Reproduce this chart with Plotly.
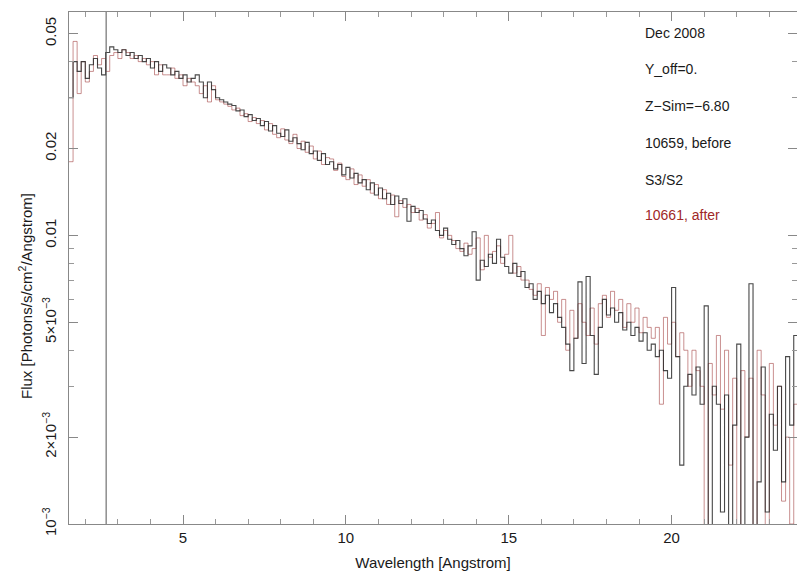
import plotly.graph_objects as go

# Spectral binning: constant-width bins in wavelength (Angstrom), 8 bins per Angstrom
bin_start = 1.5
bin_width = 0.125

# Flux per bin [Photons/s/cm^2/Angstrom], observation 10659 (before); one row per Angstrom
flux_before = [
    0.030, 0.040, 0.037, 0.040, 0.035, 0.039, 0.041, 0.038,
    0.036, 0.043, 0.045, 0.044, 0.043, 0.044, 0.042, 0.043,
    0.041, 0.042, 0.040, 0.041, 0.038, 0.040, 0.037, 0.039,
    0.038, 0.036, 0.037, 0.035, 0.036, 0.034, 0.035, 0.036,
    0.034, 0.030, 0.034, 0.032, 0.030, 0.0295, 0.029, 0.0285,
    0.0282, 0.0270, 0.0272, 0.0258, 0.0262, 0.0250, 0.0254, 0.0240,
    0.0248, 0.0230, 0.0240, 0.0226, 0.0220, 0.0232, 0.0212, 0.0218,
    0.0208, 0.0198, 0.0210, 0.0192, 0.0196, 0.0182, 0.0192, 0.0176,
    0.0180, 0.0170, 0.0176, 0.0162, 0.0172, 0.0158, 0.0164, 0.0152,
    0.0156, 0.0144, 0.0152, 0.0138, 0.0146, 0.0134, 0.0140, 0.0128,
    0.0137, 0.0129, 0.0134, 0.0112, 0.0126, 0.0120, 0.0122, 0.0114,
    0.0110, 0.0113, 0.0104, 0.0100, 0.0106, 0.0097, 0.0093, 0.0096,
    0.0090, 0.0085, 0.0092, 0.0103, 0.0070, 0.0082, 0.0078, 0.0086,
    0.0080, 0.0097, 0.0084, 0.0078, 0.0074, 0.0080, 0.0072, 0.0075,
    0.0066, 0.0068, 0.0060, 0.0064, 0.0058, 0.0062, 0.0054, 0.0058,
    0.0052, 0.0048, 0.0042, 0.0034, 0.0044, 0.0069, 0.0036, 0.0072,
    0.0045, 0.0033, 0.0048, 0.0060, 0.0053, 0.0056, 0.0050, 0.0054,
    0.0047, 0.0050, 0.0045, 0.0048, 0.0043, 0.0046, 0.0040, 0.0042,
    0.0038, 0.0040, 0.0034, 0.0032, 0.0066, 0.0038, 0.0016, 0.0030,
    0.0033, 0.0028, 0.0035, 0.0026, 0.0057, 0.0008, 0.0030, 0.0026,
    0.0011, 0.0028, 0.0008, 0.0022, 0.0042, 0.0009, 0.0020, 0.0068,
    0.0009, 0.0014, 0.0035, 0.0011, 0.0024, 0.0018, 0.0030, 0.0014,
    0.0038, 0.0022, 0.0045,
]

# Flux per bin, observation 10661 (after)
flux_after = [
    0.018, 0.047, 0.031, 0.040, 0.034, 0.037, 0.042, 0.039,
    0.041, 0.037, 0.042, 0.043, 0.041, 0.044, 0.043, 0.041,
    0.042, 0.040, 0.041, 0.039, 0.040, 0.036, 0.039, 0.036,
    0.036, 0.038, 0.035, 0.036, 0.033, 0.035, 0.034, 0.033,
    0.031, 0.033, 0.029, 0.033, 0.0295, 0.029, 0.0285, 0.028,
    0.0272, 0.0276, 0.0260, 0.0264, 0.0248, 0.0256, 0.0244, 0.0250,
    0.0232, 0.0244, 0.0224, 0.0218, 0.0234, 0.0214, 0.0208, 0.0224,
    0.0200, 0.0212, 0.0194, 0.0204, 0.0184, 0.0196, 0.0176, 0.0186,
    0.0184, 0.0168, 0.0178, 0.0160, 0.0156, 0.0170, 0.0150, 0.0162,
    0.0148, 0.0156, 0.0140, 0.0150, 0.0134, 0.0144, 0.0128, 0.0138,
    0.0116, 0.0132, 0.0125, 0.0128, 0.0120, 0.0124, 0.0113, 0.0118,
    0.0106, 0.0110, 0.0120, 0.0098, 0.0104, 0.0100, 0.0096, 0.0090,
    0.0088, 0.0094, 0.0086, 0.0090, 0.0098, 0.0076, 0.0100, 0.0084,
    0.0088, 0.0092, 0.0080, 0.0086, 0.0100, 0.0074, 0.0078, 0.0070,
    0.0070, 0.0065, 0.0062, 0.0068, 0.0045, 0.0066, 0.0060, 0.0064,
    0.0050, 0.0060, 0.0040, 0.0055, 0.0044, 0.0058, 0.0050, 0.0045,
    0.0056, 0.0042, 0.0058, 0.0062, 0.0052, 0.0064, 0.0055, 0.0060,
    0.0048, 0.0058, 0.0050, 0.0056, 0.0046, 0.0052, 0.0048, 0.0044,
    0.0048, 0.0026, 0.0052, 0.0042, 0.0050, 0.0038, 0.0046, 0.0040,
    0.0030, 0.0040, 0.0034, 0.0030, 0.0009, 0.0036, 0.0028, 0.0045,
    0.0025, 0.0040, 0.0016, 0.0032, 0.0008, 0.0034, 0.0020, 0.0032,
    0.0008, 0.0040, 0.0028, 0.0008, 0.0036, 0.0022, 0.0030, 0.0012,
    0.0020, 0.0010, 0.0026,
]

marker_wavelength = 2.64

y_tickvals = [0.001, 0.002, 0.005, 0.01, 0.02, 0.05]
y_ticktext = ["10<sup>−3</sup>", "2×10<sup>−3</sup>", "5×10<sup>−3</sup>", "0.01", "0.02", "0.05"]
x_tickvals = [5, 10, 15, 20]

info_lines = ["Dec 2008", "Y_off=0.", "Z−Sim=−6.80", "10659, before", "S3/S2", "10661, after"]
info_colors = ["#1a1a1a"] * 5 + ["#a02828"]


def step_xy(values):
    edges = [bin_start + bin_width * i for i in range(len(values) + 1)]
    return edges, list(values) + [values[-1]]


fig = go.Figure()

xs, ys = step_xy(flux_after)
fig.add_trace(go.Scatter(x=xs, y=ys, mode="lines", line_shape="hv",
                         line=dict(color="rgba(165,70,70,0.6)", width=1),
                         name="10661, after", showlegend=False))
xs, ys = step_xy(flux_before)
fig.add_trace(go.Scatter(x=xs, y=ys, mode="lines", line_shape="hv",
                         line=dict(color="rgba(40,40,40,0.85)", width=1.1),
                         name="10659, before", showlegend=False))

fig.add_shape(type="line", xref="x", yref="paper",
              x0=marker_wavelength, x1=marker_wavelength, y0=0, y1=1,
              line=dict(color="#555555", width=1))

font = "Liberation Sans, Arial, Helvetica, sans-serif"

# Plot area spans pixels 69..797 horizontally and 12..524 vertically
plot_bottom, plot_height = 524, 512
info_y = [33, 69, 106, 143, 180, 215]
for txt, col, yp in zip(info_lines, info_colors, info_y):
    fig.add_annotation(text=txt, xref="paper", yref="paper",
                       x=(643 - 69) / 728, y=(plot_bottom - yp) / plot_height,
                       xanchor="left", yanchor="middle", showarrow=False,
                       font=dict(family=font, size=14, color=col))

fig.add_annotation(text="Flux [Photons/s/cm<sup>2</sup>/Angstrom]",
                   xref="paper", yref="paper", x=(25 - 69) / 728,
                   y=(plot_bottom - 296) / plot_height, textangle=-90,
                   xanchor="center", yanchor="middle", showarrow=False,
                   font=dict(family=font, size=15, color="#1a1a1a"))

minor_y = [m * 10.0 ** e for e in (-3, -2) for m in range(1, 10)]

fig.update_layout(
    width=797, height=582,
    margin=dict(l=69, r=0, t=12, b=58),
    paper_bgcolor="white", plot_bgcolor="white",
    font=dict(family=font, size=14, color="#1a1a1a"),
    xaxis=dict(
        range=[1.5, 23.85], showgrid=False, zeroline=False,
        showline=True, linecolor="#888888", linewidth=1, mirror="ticks",
        ticks="inside", ticklen=9, tickcolor="#888888",
        tickvals=x_tickvals, ticktext=[str(v) for v in x_tickvals],
        tickfont=dict(family=font, size=15, color="#1a1a1a"),
        minor=dict(dtick=1, tick0=0, ticks="inside", ticklen=5, tickcolor="#999999"),
        title=dict(text="Wavelength [Angstrom]", standoff=12,
                   font=dict(family=font, size=15, color="#1a1a1a")),
    ),
    yaxis=dict(
        type="log", range=[-3, -1.226], showgrid=False, zeroline=False,
        showline=True, linecolor="#888888", linewidth=1, mirror="ticks",
        ticks="inside", ticklen=9, tickcolor="#888888",
        tickvals=y_tickvals, ticktext=y_ticktext, tickangle=-90,
        tickfont=dict(family=font, size=15, color="#1a1a1a"),
        ticklabelstandoff=6,
        minor=dict(tickvals=minor_y, ticks="inside", ticklen=5, tickcolor="#999999"),
    ),
)

fig.write_html("out.html")
